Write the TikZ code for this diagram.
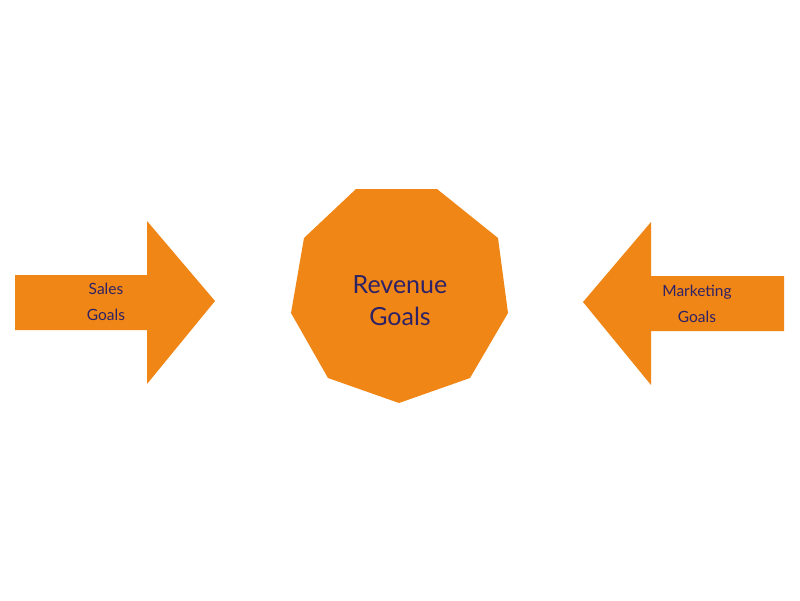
\documentclass[tikz,border=0pt]{standalone}
\usepackage{fontspec}
\setmainfont{Lato}
\begin{document}
\begin{tikzpicture}[x=1pt,y=-1pt,
  shapefill/.style={fill={rgb,255:red,240;green,134;blue,22}, draw=none},
  lbl/.style={text={rgb,255:red,46;green,34;blue,102}, align=center, inner sep=0pt}]
\useasboundingbox (0,0) rectangle (800,600);
\fill[shapefill] (15,275) -- (147,275) -- (147,221) -- (215,301) -- (147,384) -- (147,330) -- (15,330) -- cycle;
\fill[shapefill] (784,276) -- (651,276) -- (651,222) -- (583,302) -- (651,385) -- (651,331) -- (784,331) -- cycle;
\fill[shapefill] (356,189) -- (437,189) -- (498,238) -- (508,313) -- (470,378) -- (399,403) -- (328,378) -- (291,313) -- (304,238) -- cycle;
\node[lbl, font=\fontsize{25}{32}\selectfont] (rev) at (400,301) {Revenue\\Goals};
\node[lbl, font=\fontsize{15.5}{26}\selectfont] (sales) at (106,302) {Sales\\Goals};
\node[lbl, font=\fontsize{15.5}{26}\selectfont] (mkt) at (697,304) {Marketing\\Goals};
\end{tikzpicture}
\end{document}
